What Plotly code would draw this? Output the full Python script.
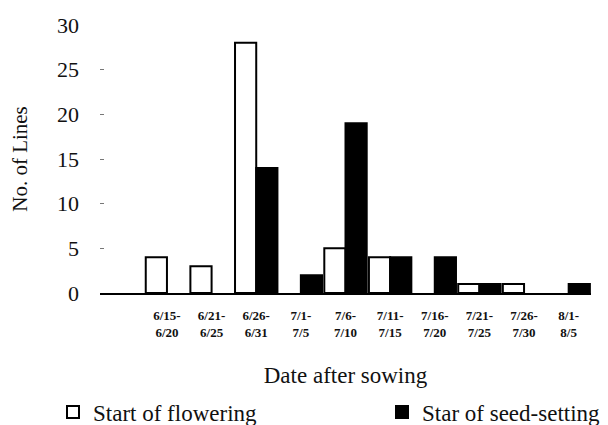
import plotly.graph_objects as go

categories = ["6/15-<br>6/20", "6/21-<br>6/25", "6/26-<br>6/31", "7/1-<br>7/5", "7/6-<br>7/10",
              "7/11-<br>7/15", "7/16-<br>7/20", "7/21-<br>7/25", "7/26-<br>7/30", "8/1-<br>8/5"]
flowering = [4, 3, 28, 0, 5, 4, 0, 1, 1, 0]
seed_setting = [0, 0, 14, 2, 19, 4, 4, 1, 0, 1]
y_ticks = [0, 5, 10, 15, 20, 25, 30]

FONT = "Liberation Serif"
x_idx = list(range(len(categories)))
W, H = 600, 417  # page body adds an 8px offset inside the 608x425 window


def hide_zero(vals):
    return [v if v else None for v in vals]


fig = go.Figure()
fig.add_trace(go.Bar(x=x_idx, y=hide_zero(flowering), name="Start of flowering",
                     legend="legend",
                     marker=dict(color="white", line=dict(color="black", width=2))))
fig.add_trace(go.Bar(x=x_idx, y=hide_zero(seed_setting), name="Star of seed-setting",
                     legend="legend2",
                     marker=dict(color="black", line=dict(color="black", width=2))))

leg_common = dict(orientation="h", xref="container", yref="container",
                  yanchor="middle", xanchor="left", y=1 - 404 / H,
                  font=dict(family=FONT, size=23, color="#111"), itemwidth=30,
                  bgcolor="rgba(0,0,0,0)")

fig.update_layout(
    width=W, height=H,
    margin=dict(l=92, r=17, t=17, b=132, autoexpand=False),
    paper_bgcolor="white", plot_bgcolor="white",
    barmode="group", bargap=0.05, bargroupgap=0,
    font=dict(family=FONT, color="#111", size=22),
    showlegend=True,
    legend=dict(leg_common, x=45 / W),
    legend2=dict(leg_common, x=374 / W),
)
fig.update_xaxes(
    tickmode="array", tickvals=x_idx, ticktext=categories,
    range=[-1.5, 9.5], showline=True, linecolor="black", linewidth=1.5,
    showgrid=False, zeroline=False, ticks="", ticklabelstandoff=10,
    tickfont=dict(family=FONT, size=13, color="#111", weight="bold"),
    title=dict(text="Date after sowing", font=dict(family=FONT, size=23), standoff=28),
)
fig.update_yaxes(
    range=[0, 30], tickvals=y_ticks, showgrid=False, zeroline=False, showline=False,
    ticks="inside", ticklen=4, tickcolor="#777", ticklabelstandoff=20,
    tickfont=dict(family=FONT, size=22, color="#111"),
    title=dict(text="No. of Lines", font=dict(family=FONT, size=21), standoff=26),
)

fig.write_html("out.html")
